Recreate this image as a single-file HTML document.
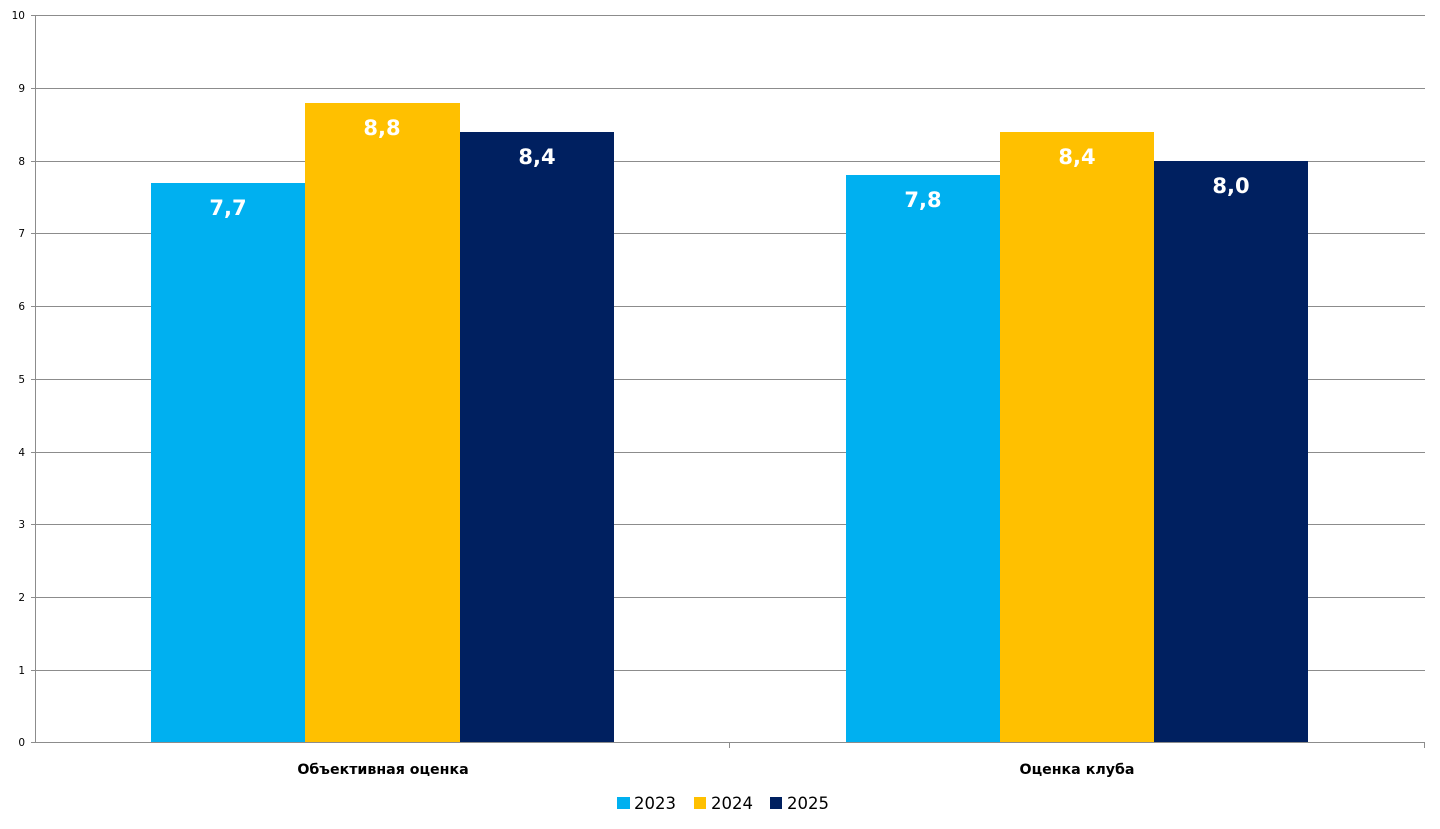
<!DOCTYPE html>
<html><head><meta charset="utf-8"><style>body{margin:0;background:#fff}svg{display:block}</style></head><body>
<svg width="1440" height="829" xmlns="http://www.w3.org/2000/svg" font-family="DejaVu Sans, Liberation Sans, sans-serif">
<g stroke="#8c8c8c" stroke-width="1">
<line x1="31" x2="1425" y1="15.5" y2="15.5"/>
<line x1="31" x2="1425" y1="88.5" y2="88.5"/>
<line x1="31" x2="1425" y1="161.5" y2="161.5"/>
<line x1="31" x2="1425" y1="233.5" y2="233.5"/>
<line x1="31" x2="1425" y1="306.5" y2="306.5"/>
<line x1="31" x2="1425" y1="379.5" y2="379.5"/>
<line x1="31" x2="1425" y1="452.5" y2="452.5"/>
<line x1="31" x2="1425" y1="524.5" y2="524.5"/>
<line x1="31" x2="1425" y1="597.5" y2="597.5"/>
<line x1="31" x2="1425" y1="670.5" y2="670.5"/>
<line x1="35.5" x2="35.5" y1="15" y2="742"/>
<line x1="729.5" x2="729.5" y1="742" y2="748"/>
<line x1="1424.5" x2="1424.5" y1="742" y2="748"/>
</g>
<g font-size="10.5" fill="#000" text-anchor="end">
<text x="25" y="19">10</text><text x="25" y="92">9</text><text x="25" y="165">8</text><text x="25" y="237">7</text><text x="25" y="310">6</text><text x="25" y="383">5</text><text x="25" y="456">4</text><text x="25" y="528">3</text><text x="25" y="601">2</text><text x="25" y="674">1</text><text x="25" y="746">0</text>
</g>
<rect x="151" y="183" width="154" height="559" fill="#00b0f0"/>
<rect x="305" y="103" width="155" height="639" fill="#ffc000"/>
<rect x="460" y="132" width="154" height="610" fill="#002060"/>
<rect x="846" y="175" width="154" height="567" fill="#00b0f0"/>
<rect x="1000" y="132" width="154" height="610" fill="#ffc000"/>
<rect x="1154" y="161" width="154" height="581" fill="#002060"/>
<line x1="31" x2="1425" y1="742.5" y2="742.5" stroke="#8c8c8c"/>
<g font-size="21" font-weight="bold" fill="#fff" text-anchor="middle">
<text x="228" y="215">7,7</text><text x="382" y="135">8,8</text><text x="537" y="164">8,4</text>
<text x="923" y="207">7,8</text><text x="1077" y="164">8,4</text><text x="1231" y="193">8,0</text>
</g>
<g font-size="14.2" font-weight="bold" fill="#000" text-anchor="middle">
<text x="383" y="774">Объективная оценка</text><text x="1077" y="774">Оценка клуба</text>
</g>
<rect x="617" y="797" width="13" height="12" fill="#00b0f0"/>
<rect x="694" y="797" width="12" height="12" fill="#ffc000"/>
<rect x="770" y="797" width="12" height="12" fill="#002060"/>
<g font-size="16.5" fill="#000"><text x="634" y="809">2023</text><text x="711" y="809">2024</text><text x="787" y="809">2025</text></g>
</svg>
</body></html>
